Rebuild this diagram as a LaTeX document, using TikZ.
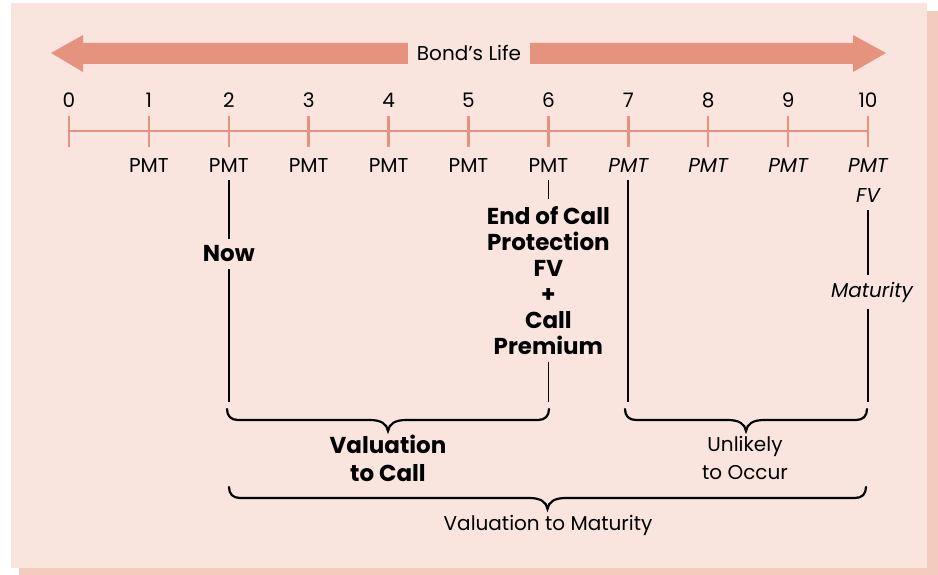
\documentclass[tikz,border=0pt]{standalone}
\usepackage{fontspec}
\setmainfont{Poppins}
\definecolor{panel}{HTML}{F9E5DE}
\definecolor{shadowc}{HTML}{F3CBBD}
\definecolor{salmon}{HTML}{E5937E}
\newcommand\curlybrace[3]{%
  \pgfmathsetmacro\bxm{(#1+#2)/2}%
  \draw[bracestyle] (#1,#3) .. controls (#1,#3+7) and (#1+4,#3+11) .. (#1+11,#3+11)
    -- (\bxm-18,#3+11) .. controls (\bxm-7,#3+11) and (\bxm-1,#3+15) .. (\bxm,#3+22)
    .. controls (\bxm+1,#3+15) and (\bxm+7,#3+11) .. (\bxm+18,#3+11)
    -- (#2-11,#3+11) .. controls (#2-4,#3+11) and (#2,#3+7) .. (#2,#3);}
\begin{document}
\begin{tikzpicture}[x=1pt,y=-1pt,
  every node/.style={font=\fontsize{20}{24}\selectfont, inner sep=0pt},
  itl/.style={font=\fontsize{20}{24}\selectfont\itshape},
  bld/.style={font=\fontsize{23}{26}\selectfont\bfseries, align=center},
  two/.style={font=\fontsize{20}{28}\selectfont, align=center},
  conn/.style={line width=1.8pt, black, shorten <=7pt, shorten >=7pt},
  bracestyle/.style={line width=2.2pt, black, line cap=round},
  axis/.style={salmon, line width=2.2pt},
  tick/.style={salmon, line width=2.5pt}]
\useasboundingbox (0,0) rectangle (938,575);
\fill[shadowc] (19,11) rectangle (938,575);
\fill[panel] (11,3) rectangle (927,568);
% bond's life arrow
\fill[salmon] (51,53) -- (83,35) -- (83,43) -- (853,43) -- (853,35) -- (886,53)
  -- (853,72) -- (853,64) -- (83,64) -- (83,72) -- cycle;
\node[fill=panel, inner xsep=9pt, minimum height=26pt] (life) at (469,53) {Bond’s Life};
% timeline
\draw[axis] (69,131) -- (868,131);
\foreach \k in {0,...,10}{
  \pgfmathsetmacro\tx{69+79.9*\k}
  \draw[tick] (\tx,116) -- (\tx,147);
  \node (n\k) at (\tx,100) {\k};
}
\foreach \k in {1,...,6}{
  \pgfmathsetmacro\tx{69+79.9*\k}
  \node (p\k) at (\tx,166) {PMT};
}
\foreach \k in {7,...,10}{
  \pgfmathsetmacro\tx{69+79.9*\k}
  \node[itl] (p\k) at (\tx,166) {PMT};
}
\node[itl] (fv) at (p10 |- 0,196) {FV};
\node[bld] (now) at (p2 |- 0,254) {Now};
\node[bld, anchor=north] (eoc) at (p6 |- 0,206) {End of Call\\Protection\\FV\\+\\Call\\Premium};
\node[itl] (mat) at (872,292) {Maturity};
\coordinate (e2) at (p2 |- 0,409);
\coordinate (e6) at (p6 |- 0,409);
\coordinate (e7) at (p7 |- 0,409);
\coordinate (e10) at (p10 |- 0,409);
\draw[conn] (p2) -- (now);
\draw[conn] (now) -- (e2);
\draw[conn] (p6) -- (eoc);
\draw[conn] (eoc) -- (e6);
\draw[conn] (p7) -- (e7);
\draw[conn] (fv.south) -- (fv.south |- mat.north);
\draw[conn] (fv.south |- mat.south) -- (e10);
% braces
\curlybrace{227}{549}{409}
\curlybrace{625}{867}{409}
\curlybrace{229}{866}{487}
\node[bld, font=\fontsize{23}{28}\selectfont\bfseries] (vcall) at (388,458) {Valuation\\to Call};
\node[two] (unl) at (745,458) {Unlikely\\to Occur};
\node (vmat) at (548,525) {Valuation to Maturity};
\end{tikzpicture}
\end{document}
